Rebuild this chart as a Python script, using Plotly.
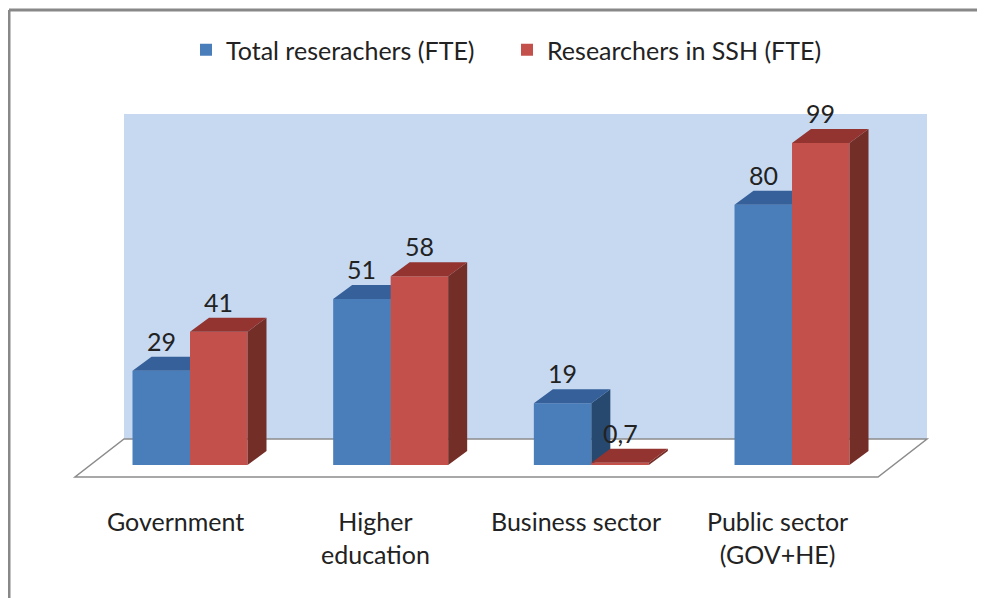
# researchers chart, 3D-style column chart rebuilt with flat plotly traces
import plotly.graph_objects as go

categories = ["Government", "Higher<br>education", "Business sector", "Public sector<br>(GOV+HE)"]
total_fte = [29, 51, 19, 80]
ssh_fte = [41, 58, 0.7, 99]
series_names = ["Total reserachers (FTE)", "Researchers in SSH (FTE)"]

W, H = 985, 598
PAGE_OFF = 8          # the page body margin puts the figure at (8, 8) in the window
FONT = "Lato"
FONT_SIZE = 25
TEXT_COLOR = "#222222"

# zero margins, so the plot area is the whole figure; window pixel <-> data mapping
X0_PX, UNIT_X = 190, 200.67   # window pixel of group 0 centre, px per category
Y0_PX, UNIT_Y = 465, 3.2525   # window pixel of value 0, px per unit


def px_x(px):
    return (px - X0_PX) / UNIT_X


def px_y(py):
    return (Y0_PX - py) / UNIT_Y


def paper_x(px):
    return (px - PAGE_OFF) / W


def paper_y(py):
    return 1 - (py - PAGE_OFF) / H


bar_w = 57.5 / UNIT_X
depth_x = 19 / UNIT_X
depth_y = 14 / UNIT_Y
label_shift = -15 / UNIT_X     # category labels sit on the floor front edge

colors = {
    'blue': dict(front='#4A7EBB', top='#36609A', side='#28496F'),
    'red': dict(front='#C4504B', top='#933431', side='#742E28'),
}


def faces(values, offset):
    """top and side parallelograms for each bar, separated by None"""
    top_x, top_y, side_x, side_y = [], [], [], []
    for i, v in enumerate(values):
        left = i + offset - bar_w / 2
        right = i + offset + bar_w / 2
        top_x += [left, right, right + depth_x, left + depth_x, left, None]
        top_y += [v, v, v + depth_y, v + depth_y, v, None]
        side_x += [right, right + depth_x, right + depth_x, right, right, None]
        side_y += [0, depth_y, v + depth_y, v, 0, None]
    return top_x, top_y, side_x, side_y


fig = go.Figure()
series = [(total_fte, -bar_w / 2, 'blue', 'x', 'y'), (ssh_fte, bar_w / 2, 'red', 'x2', 'y2')]
for (values, offset, c, xa, ya), name in zip(series, series_names):
    xs = [i + offset for i in range(len(values))]
    fig.add_trace(go.Bar(x=xs, y=values, width=bar_w, name=name, xaxis=xa, yaxis=ya,
                         marker=dict(color=colors[c]['front'], line=dict(width=0))))
    tx, ty, sx, sy = faces(values, offset)
    fig.add_trace(go.Scatter(x=sx, y=sy, mode='lines', fill='toself', showlegend=False,
                             fillcolor=colors[c]['side'], line=dict(width=0, color=colors[c]['side']),
                             xaxis=xa, yaxis=ya, hoverinfo='skip'))
    fig.add_trace(go.Scatter(x=tx, y=ty, mode='lines', fill='toself', showlegend=False,
                             fillcolor=colors[c]['top'], line=dict(width=0, color=colors[c]['top']),
                             xaxis=xa, yaxis=ya, hoverinfo='skip'))
    # data labels
    for x, v in zip(xs, values):
        fig.add_annotation(x=x, y=v + depth_y, text=f"{v:g}".replace('.', ','), showarrow=False,
                           xanchor='center', yanchor='bottom', yshift=-1,
                           font=dict(family=FONT, size=FONT_SIZE, color=TEXT_COLOR))

# category labels
for i, cat in enumerate(categories):
    fig.add_annotation(x=i + label_shift, y=px_y(504), text=cat, showarrow=False,
                       xanchor='center', yanchor='top', align='center',
                       font=dict(family=FONT, size=FONT_SIZE, color=TEXT_COLOR))

# back wall and floor
wall_l, wall_r = px_x(124), px_x(927)
floor_back, floor_front = px_y(439), px_y(477)
fl_l, fl_r = px_x(75), px_x(878)
fig.add_shape(type='rect', xref='x', yref='y', x0=wall_l, x1=wall_r, y0=floor_back, y1=px_y(114),
              fillcolor='#C6D9F1', line=dict(width=0), layer='below')
fig.add_shape(type='path', xref='x', yref='y', layer='below',
              path=f"M{wall_l},{floor_back} L{wall_r},{floor_back} L{fl_r},{floor_front} "
                   f"L{fl_l},{floor_front} Z",
              fillcolor='white', line=dict(color='#8C8C8C', width=1.5))

# chart frame (top and left edges visible)
fig.add_shape(type='line', xref='paper', yref='paper', x0=paper_x(9), x1=1,
              y0=paper_y(10), y1=paper_y(10), line=dict(color='#888888', width=3))
fig.add_shape(type='line', xref='paper', yref='paper', x0=paper_x(9), x1=paper_x(9),
              y0=0, y1=paper_y(10), line=dict(color='#888888', width=3))

x_range = [px_x(PAGE_OFF), px_x(PAGE_OFF + W)]
y_range = [px_y(PAGE_OFF + H), px_y(PAGE_OFF)]
axis_off = dict(visible=False, showgrid=False, zeroline=False, fixedrange=True)
fig.update_layout(
    width=W, height=H,
    margin=dict(l=0, r=0, t=0, b=0),
    barmode='overlay',
    plot_bgcolor='white', paper_bgcolor='white',
    font=dict(family=FONT, size=FONT_SIZE, color=TEXT_COLOR),
    xaxis=dict(range=x_range, **axis_off),
    yaxis=dict(range=y_range, **axis_off),
    xaxis2=dict(range=x_range, overlaying='x', matches='x', **axis_off),
    yaxis2=dict(range=y_range, overlaying='y', matches='y', **axis_off),
    legend=dict(orientation='h', x=paper_x(186), y=paper_y(50), xanchor='left', yanchor='middle',
                bgcolor='rgba(0,0,0,0)', font=dict(family=FONT, size=FONT_SIZE, color=TEXT_COLOR),
                entrywidth=276, entrywidthmode='pixels', traceorder='normal'),
    showlegend=True,
)

fig.write_html("out.html")
